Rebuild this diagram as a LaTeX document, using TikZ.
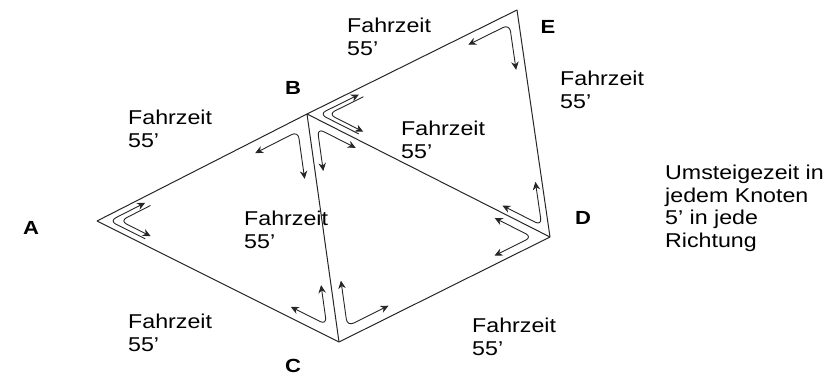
\documentclass[tikz,border=0pt]{standalone}
\usepackage{fontspec}
\setmainfont[FakeStretch=1.16]{Liberation Sans}
\usetikzlibrary{calc,arrows.meta}

\begin{document}
\begin{tikzpicture}[x=1pt, y=-1pt, >={Stealth[length=8pt,width=7.5pt]},
  kante/.style={line width=1pt, black!85},
  umstieg/.style={line width=.9pt, black!85, rounded corners=7pt},
  zeit/.style={anchor=north west, inner sep=0pt, align=left, font=\fontsize{20}{22.5}\selectfont},
  knoten/.style={font=\fontsize{19}{22}\selectfont\bfseries}]
\useasboundingbox (0,0) rectangle (839,377);

\coordinate (A) at (97,221);
\coordinate (B) at (307,114);
\coordinate (C) at (339,342);
\coordinate (D) at (550,237);
\coordinate (E) at (517,10);

\node[knoten] (lA) at (31,228) {A};
\node[knoten] (lB) at (293,88) {B};
\node[knoten] (lC) at (293,366) {C};
\node[knoten] (lD) at (583,218) {D};
\node[knoten] (lE) at (548,27) {E};

\node[zeit] (tAB) at (128,110) {Fahrzeit\\55'};
\node[zeit] (tBE) at (347,18) {Fahrzeit\\55'};
\node[zeit] (tED) at (560,71) {Fahrzeit\\55'};
\node[zeit] (tBD) at (401,121) {Fahrzeit\\55'};
\node[zeit] (tBC) at (244,211) {Fahrzeit\\55'};
\node[zeit] (tAC) at (128,314) {Fahrzeit\\55'};
\node[zeit] (tCD) at (472,318) {Fahrzeit\\55'};
\node[zeit] (hinweis) at (665,165) {Umsteigezeit in\\jedem Knoten\\5' in jede\\Richtung};

\foreach \p/\q in {A/B,A/C,B/C,B/D,C/D,B/E,E/D}
  \draw[kante] (\p)--(\q);

% Umstieg in beide Richtungen
\foreach \v/\x/\y/\l/\o in {B/A/C/60pt/12pt, C/A/B/52pt/12pt, C/B/D/57pt/11pt,
    D/C/B/52pt/10pt, D/B/E/52pt/8pt, E/B/D/56pt/10pt, B/C/D/53pt/10pt}
  \draw[umstieg,<->] ($(\v)!\l!(\x)+(\v)!\o!(\y)-(\v)$)
    -- ($(\v)!\o!(\x)+(\v)!\o!(\y)-(\v)$)
    -- ($(\v)!\l!(\y)+(\v)!\o!(\x)-(\v)$);

% getrennte Pfeile bei A und B
\foreach \v/\x/\y/\l/\o in {A/C/B/47pt/7pt, A/B/C/47pt/13pt, B/D/E/51pt/7pt, B/E/D/51pt/12pt}
  \draw[umstieg,->] ($(\v)!\l!(\x)+(\v)!\o!(\y)-(\v)$)
    -- ($(\v)!\o!(\x)+(\v)!\o!(\y)-(\v)$)
    -- ($(\v)!\l!(\y)+(\v)!\o!(\x)-(\v)$);

\end{tikzpicture}
\end{document}
